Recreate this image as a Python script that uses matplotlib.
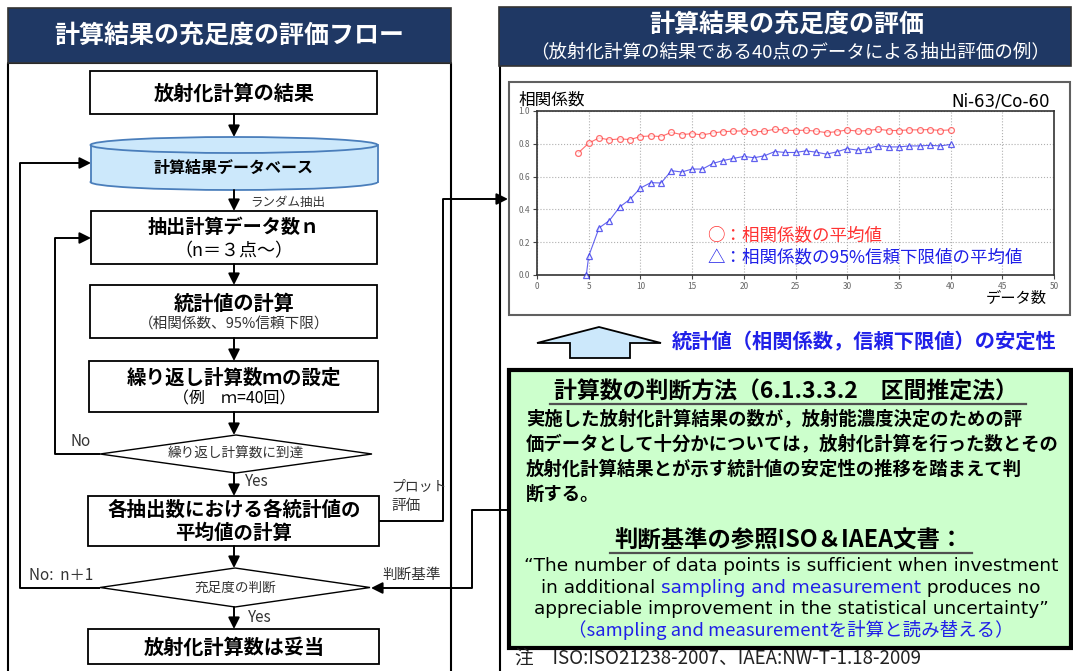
import matplotlib
matplotlib.use("Agg")
import matplotlib.pyplot as plt
from matplotlib.patches import Rectangle, Ellipse, Polygon
from matplotlib.offsetbox import TextArea, HPacker, AnnotationBbox

JP = ['Noto Sans CJK JP', 'DejaVu Sans']
plt.rcParams['font.family'] = JP

# data (Ni-63/Co-60)
n_mean = list(range(4, 41))
r_mean = [0.745, 0.804, 0.836, 0.824, 0.830, 0.826, 0.844, 0.848, 0.844, 0.870,
          0.856, 0.862, 0.854, 0.866, 0.874, 0.877, 0.879, 0.872, 0.877, 0.889,
          0.883, 0.881, 0.883, 0.877, 0.868, 0.874, 0.885, 0.877, 0.881, 0.889,
          0.881, 0.881, 0.885, 0.885, 0.887, 0.881, 0.885]
n_lower = [4.77] + list(range(5, 41))
r_lower = [0.0, 0.115, 0.287, 0.332, 0.415, 0.462, 0.530, 0.563, 0.561, 0.636,
           0.628, 0.646, 0.646, 0.680, 0.698, 0.711, 0.723, 0.715, 0.727, 0.753,
           0.747, 0.747, 0.757, 0.749, 0.737, 0.751, 0.771, 0.761, 0.769, 0.789,
           0.781, 0.781, 0.787, 0.787, 0.791, 0.787, 0.796]
x_ticks = [0, 5, 10, 15, 20, 25, 30, 35, 40, 45, 50]
y_ticks = [0.0, 0.2, 0.4, 0.6, 0.8, 1.0]

NAVY = '#1f3864'
LBLUE = '#cce8fb'
BLUE = '#2020e8'
RED = '#ff3333'

W, H = 1073, 671
fig = plt.figure(figsize=(W / 100, H / 100), dpi=100)
ax = fig.add_axes([0, 0, 1, 1])
ax.set_xlim(0, W)
ax.set_ylim(H, 0)
ax.axis('off')


def box(x0, y0, x1, y1, fc='white', ec='black', lw=1.3, z=2):
    ax.add_patch(Rectangle((x0, y0), x1 - x0, y1 - y0, fc=fc, ec=ec, lw=lw, zorder=z))


def txt(x, y, s, size, bold=False, color='black', ha='center', **kw):
    return ax.text(x, y, s, fontsize=size, fontweight='bold' if bold else 'normal',
                   color=color, ha=ha, va='center', zorder=5, **kw)


def arrow(x0, y0, x1, y1, lw=1.4):
    ax.annotate('', xy=(x1, y1), xytext=(x0, y0),
                arrowprops=dict(arrowstyle='-|>', color='black', lw=lw,
                                mutation_scale=17, shrinkA=0, shrinkB=0), zorder=4)


def poly_arrow(pts, lw=1.4):
    xs = [p[0] for p in pts[:-1]]
    ys = [p[1] for p in pts[:-1]]
    ax.plot(xs, ys, color='black', lw=lw, zorder=3, solid_capstyle='butt')
    arrow(pts[-2][0], pts[-2][1], pts[-1][0], pts[-1][1], lw)


def diamond(x0, x1, y0, y1, label):
    cx, cy = (x0 + x1) / 2, (y0 + y1) / 2
    ax.add_patch(Polygon([(x0, cy), (cx, y0), (x1, cy), (cx, y1)], closed=True,
                         fc='white', ec='black', lw=1.0, zorder=2))
    txt(cx, cy, label, 9.8, color='#333333')


# ---------------- left panel: flow ----------------
box(8, 8, 451, 63, fc=NAVY, ec='#333333', lw=1.2)
txt(229, 36, '計算結果の充足度の評価フロー', 18, bold=True, color='white')
ax.plot([8, 8, 451, 451], [H + 5, 63, 63, H + 5], color='black', lw=1.5, zorder=1)

cx = 234
box(90, 71, 377, 114)
txt(cx, 93, '放射化計算の結果', 14.5, bold=True)
arrow(cx, 114, cx, 137)

# database cylinder
ax.add_patch(Ellipse((cx, 182), 287, 16, fc=LBLUE, ec='#4a7ebb', lw=1.3, zorder=2))
ax.add_patch(Rectangle((90.5, 145), 286, 37, fc=LBLUE, ec='none', zorder=2))
ax.plot([90.5, 90.5], [145, 182], color='#4a7ebb', lw=1.3, zorder=2)
ax.plot([377.5, 377.5], [145, 182], color='#4a7ebb', lw=1.3, zorder=2)
ax.add_patch(Ellipse((cx, 145), 287, 16, fc=LBLUE, ec='#4a7ebb', lw=1.3, zorder=2))
txt(cx, 168, '計算結果データベース', 11.5, bold=True)
arrow(cx, 190, cx, 211)
txt(250, 202, 'ランダム抽出', 9, ha='left', color='#333333')

box(91, 211, 377, 264)
txt(cx, 227, '抽出計算データ数ｎ', 13.8, bold=True)
txt(cx, 251, '（n＝３点～）', 13)
arrow(cx, 264, cx, 285)

box(90, 285, 377, 338)
txt(cx, 303, '統計値の計算', 14.5, bold=True)
txt(cx, 325, '（相関係数、95%信頼下限）', 10.5, color='#333333')
arrow(cx, 338, cx, 361)

box(89, 361, 378, 412)
txt(cx, 378, '繰り返し計算数ｍの設定', 14, bold=True)
txt(cx, 399, '（例　ｍ=40回）', 11.5)
arrow(cx, 412, cx, 435)

diamond(100, 372, 435, 473, '繰り返し計算数に到達')
txt(70, 442, 'No', 11, ha='left', color='#333333')
poly_arrow([(100, 454), (55, 454), (55, 238), (91, 238)])
arrow(cx, 473, cx, 496)
txt(245, 482, 'Yes', 11, ha='left', color='#333333')

box(88, 496, 379, 546)
txt(cx, 510, '各抽出数における各統計値の', 14, bold=True)
txt(cx, 533, '平均値の計算', 14, bold=True)
txt(391, 487, 'プロット', 10, ha='left', color='#333333')
txt(391, 506, '評価', 10.5, ha='left', color='#333333')
poly_arrow([(379, 521), (443, 521), (443, 199), (508, 199)])
arrow(cx, 546, cx, 568)

diamond(100, 370, 568, 607, '充足度の判断')
txt(29, 576, 'No:  n＋1', 11, ha='left', color='#333333')
poly_arrow([(100, 588), (20, 588), (20, 163), (91, 163)])
txt(382, 575, '判断基準', 10.5, ha='left', color='#333333')
poly_arrow([(509, 510), (472, 510), (472, 588), (371, 588)])
arrow(cx, 607, cx, 629)
txt(248, 617, 'Yes', 11, ha='left', color='#333333')

box(88, 629, 379, 664)
txt(cx, 647, '放射化計算数は妥当', 14.5, bold=True)

# ---------------- right panel ----------------
box(499, 7, 1071, 66, fc=NAVY, ec='#333333', lw=1.2)
txt(787, 25, '計算結果の充足度の評価', 18, bold=True, color='white')
txt(790, 52, '（放射化計算の結果である40点のデータによる抽出評価の例）', 13.3, color='white')
ax.plot([500, 500], [66, H + 5], color='black', lw=1.5, zorder=1)

box(509, 82, 1070, 315, ec='#606060', lw=1.5, z=1)
txt(519, 100, '相関係数', 12, ha='left')
txt(1050, 101, 'Ni-63/Co-60', 12, ha='right', family=['DejaVu Sans'])
txt(1047, 299, 'データ数', 11, ha='right')

# block arrow
ax.add_patch(Polygon([(599, 327), (661, 343), (630, 343), (630, 358), (570, 358),
                      (570, 343), (537, 343)], closed=True, fc=LBLUE, ec='black',
                     lw=1.3, zorder=2))
txt(864, 342, '統計値（相関係数，信頼下限値）の安定性', 14.6, bold=True, color=BLUE)

# green box
box(509, 370, 1071, 648, fc='#ccffcc', ec='black', lw=3)
h1 = txt(786, 392, '計算数の判断方法（6.1.3.3.2　区間推定法）', 16.5, bold=True)
body = ['実施した放射化計算結果の数が，放射能濃度決定のための評',
        '価データとして十分かについては，放射化計算を行った数とその',
        '放射化計算結果とが示す統計値の安定性の推移を踏まえて判',
        '断する。']
for i, line in enumerate(body):
    txt(526, 419 + 25 * i, line, 13.2, bold=True, ha='left')
h2 = txt(789, 541, '判断基準の参照ISO＆IAEA文書：', 16.8, bold=True)

EN = dict(fontsize=13.3, family=['DejaVu Sans'])
txt(791, 566, '“The number of data points is sufficient when investment', 13.3,
    family=['DejaVu Sans'])
parts = [TextArea('in additional ', textprops=dict(color='black', **EN)),
         TextArea('sampling and measurement', textprops=dict(color=BLUE, **EN)),
         TextArea(' produces no', textprops=dict(color='black', **EN))]
pack = HPacker(children=parts, pad=0, sep=0, align='baseline')
ax.add_artist(AnnotationBbox(pack, (791, 588), xycoords='data', frameon=False,
                             box_alignment=(0.5, 0.5), pad=0, zorder=5))
txt(791, 609, 'appreciable improvement in the statistical uncertainty”', 13.3,
    family=['DejaVu Sans'])
txt(791, 630, '（sampling and measurementを計算と読み替える）', 13.3, color=BLUE,
    family=['Noto Sans CJK JP', 'DejaVu Sans'])
txt(515, 658, '注　ISO:ISO21238-2007、IAEA:NW-T-1.18-2009', 13.5, ha='left',
    color='#222222')

# underlines for the two headings, just under the glyphs
fig.canvas.draw()
inv = ax.transData.inverted()
for t in (h1, h2):
    bb = t.get_window_extent()
    (x0, _), (x1, _) = inv.transform([(bb.x0, bb.y0), (bb.x1, bb.y1)])
    yu = t.get_position()[1] + 12
    ax.plot([x0 - 4, x1 + 8], [yu, yu], color='#505050', lw=1.6, zorder=5)

# ---------------- chart ----------------
cax = fig.add_axes([537 / W, 1 - 275 / H, (1054 - 537) / W, (275 - 111) / H])
cax.plot(n_mean, r_mean, color=RED, lw=0.8, alpha=0.7, marker='o', ms=4.2,
         mfc='white', mec=RED, mew=0.9, zorder=3)
cax.plot(n_lower, r_lower, color=BLUE, lw=0.8, alpha=0.7, marker='^', ms=4.8,
         mfc='white', mec=BLUE, mew=0.9, zorder=3, clip_on=False)
cax.set_xlim(0, 50)
cax.set_ylim(0, 1.0)
cax.set_xticks(x_ticks)
cax.set_yticks(y_ticks)
cax.set_yticklabels(['%.1f' % v for v in y_ticks])
cax.tick_params(labelsize=6, colors='#444444', length=3, width=0.8, pad=2,
                labelcolor='#666666')
cax.grid(True, ls=':', color='#b0b0b0', lw=0.8)
for s in cax.spines.values():
    s.set_color('#333333')
    s.set_linewidth(1.2)
cax.text(0.329, 0.244, '○：相関係数の平均値', transform=cax.transAxes, fontsize=12.6,
         color=RED, ha='left', va='center', family=JP)
cax.text(0.329, 0.11, '△：相関係数の95%信頼下限値の平均値', transform=cax.transAxes,
         fontsize=12.6, color=BLUE, ha='left', va='center', family=JP)

fig.savefig('out.png', dpi=100)
